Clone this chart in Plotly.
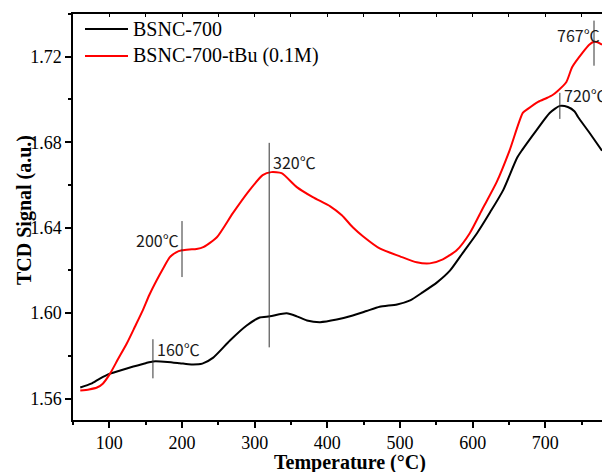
import plotly.graph_objects as go

# ---- data ----
t_black = [60, 75, 87, 101, 115, 133, 150, 160, 180, 197, 213, 228, 243, 266, 289, 307, 321, 344,
           358, 372, 390, 413, 435, 454, 472, 496, 514, 531, 551, 569, 586, 606, 624, 642, 661,
           668, 688, 706, 720, 731, 740, 745, 761, 778]
v_black = [1.5652, 1.5670, 1.5694, 1.5717, 1.5732, 1.5750, 1.5766, 1.5774, 1.5772, 1.5766, 1.5760,
           1.5764, 1.5792, 1.5872, 1.5942, 1.5980, 1.5985, 1.5999, 1.5985, 1.5966, 1.5958, 1.5970,
           1.5989, 1.6010, 1.6030, 1.6041, 1.6060, 1.6097, 1.6144, 1.6200, 1.6280, 1.6374, 1.6472,
           1.6576, 1.6726, 1.6763, 1.6857, 1.6937, 1.6970, 1.6965, 1.6945, 1.6918, 1.6843, 1.6760]

t_red = [60, 72, 83, 91, 101, 112, 124, 135, 146, 155, 165, 175, 183, 192, 200, 210, 220, 230, 248,
         270, 293, 311, 323, 337, 358, 380, 404, 420, 435, 449, 472, 500, 523, 541, 559, 578, 596,
         614, 633, 651, 669, 676, 690, 702, 710, 717, 729, 737, 751, 760, 767, 772, 778]
v_red = [1.5638, 1.5643, 1.5652, 1.5670, 1.5717, 1.5785, 1.5858, 1.5935, 1.6013, 1.6085, 1.6153,
         1.6215, 1.6261, 1.6285, 1.6294, 1.6298, 1.6300, 1.6310, 1.6355, 1.6468, 1.6576, 1.6646,
         1.6660, 1.6655, 1.6590, 1.6543, 1.6500, 1.6458, 1.6402, 1.6360, 1.6303, 1.6266, 1.6238,
         1.6233, 1.6252, 1.6294, 1.6374, 1.6491, 1.6613, 1.6763, 1.6937, 1.6956, 1.6989, 1.7007,
         1.7021, 1.7040, 1.7082, 1.7152, 1.7218, 1.7255, 1.7270, 1.7268, 1.7256]

series_names = ["BSNC-700", "BSNC-700-tBu (0.1M)"]
series_colors = ["black", "#ff0000"]

# peak markers: temperature, marker line y-range, label, label y
peak_temps = [160, 200, 320, 720, 767]
peak_y0 = [1.5695, 1.6169, 1.5840, 1.6909, 1.7158]
peak_y1 = [1.5878, 1.6431, 1.6797, 1.7031, 1.7369]
peak_labels = ["160℃", "200℃", "320℃", "720℃", "767℃"]
label_y = [1.5834, 1.6341, 1.6707, 1.7021, 1.7302]
label_anchor = ["left", "right", "left", "left", "right"]
label_shift = [2, -1, 2, 2, 8]

x_range = [50, 778]
y_range = [1.55, 1.74]

serif = "Liberation Serif, Times New Roman, serif"
label_font = "Noto Sans CJK SC, Liberation Sans, Arial, sans-serif"

# plot area in pixels (for paper-coordinate helpers)
L, R, T, B = 73, 602, 14, 420
def px_x(p):
    return (p - L) / (R - L)
def px_y(p):
    return (B - p) / (B - T)

fig = go.Figure()
for tx, vy, name, col in [(t_black, v_black, series_names[0], series_colors[0]),
                          (t_red, v_red, series_names[1], series_colors[1])]:
    fig.add_trace(go.Scatter(x=tx, y=vy, mode="lines", name=name, showlegend=False,
                             line=dict(color=col, width=2, shape="spline", smoothing=0.6)))
fig.add_trace(go.Scatter(x=[None], y=[None], xaxis="x2", showlegend=False, hoverinfo="skip"))

# legend drawn by hand to match the reference's geometry
for i, (name, col) in enumerate(zip(series_names, series_colors)):
    yy = px_y(29 + 27 * i)
    fig.add_shape(type="line", xref="paper", yref="paper", x0=px_x(85), x1=px_x(128), y0=yy, y1=yy,
                  line=dict(color=col, width=2))
    fig.add_annotation(xref="paper", yref="paper", x=px_x(131), y=yy, text=name, showarrow=False,
                       xanchor="left", yanchor="middle",
                       font=dict(family=serif, size=20, color="black"))

for t, y0, y1, lab, ly, anc, sh in zip(peak_temps, peak_y0, peak_y1, peak_labels, label_y,
                                       label_anchor, label_shift):
    fig.add_shape(type="line", x0=t, x1=t, y0=y0, y1=y1, xref="x", yref="y",
                  line=dict(color="#333333", width=1))
    fig.add_annotation(x=t, y=ly, text=lab, showarrow=False, xanchor=anc, xshift=sh,
                       font=dict(family=label_font, size=16, color="#1a1a1a"))

# axis titles (the x title is centred as in the reference, whose plot continued past the crop)
fig.add_annotation(xref="paper", yref="paper", x=px_x(350), y=px_y(462), text="<b>Temperature (°C)</b>",
                   showarrow=False, xanchor="center", yanchor="middle",
                   font=dict(family=serif, size=20, color="black"))
fig.add_annotation(xref="paper", yref="paper", x=px_x(24), y=px_y(210), text="<b>TCD Signal (a.u.)</b>",
                   showarrow=False, xanchor="center", yanchor="middle", textangle=-90,
                   font=dict(family=serif, size=20, color="black"))

fig.update_layout(
    width=602, height=472,
    margin=dict(l=L, r=602 - R, t=T, b=472 - B),
    paper_bgcolor="white", plot_bgcolor="white",
    showlegend=False,
    xaxis=dict(range=x_range, showgrid=False, zeroline=False, showline=True, linecolor="black",
               linewidth=1.5, ticks="outside", ticklen=6, tickwidth=1.5, tickcolor="black",
               tick0=0, dtick=100,
               minor=dict(ticks="outside", ticklen=3.5, tickwidth=1.5, tickcolor="black", dtick=50),
               tickfont=dict(family=serif, size=18, color="black")),
    xaxis2=dict(range=x_range, overlaying="x", side="top", anchor="y", showgrid=False, zeroline=False,
                showline=True, linecolor="black", linewidth=1.5, ticks="inside", ticklen=3,
                tickwidth=1.2, tickcolor="black", tick0=0, dtick=50, showticklabels=False),
    yaxis=dict(range=y_range, showgrid=False, zeroline=False, showline=True, linecolor="black",
               linewidth=1.5, ticks="outside", ticklen=6, tickwidth=1.5, tickcolor="black",
               tick0=1.56, dtick=0.04, tickformat=".2f",
               minor=dict(ticks="outside", ticklen=3.5, tickwidth=1.5, tickcolor="black", dtick=0.02),
               tickfont=dict(family=serif, size=18, color="black")),
)

fig.write_html("out.html")
